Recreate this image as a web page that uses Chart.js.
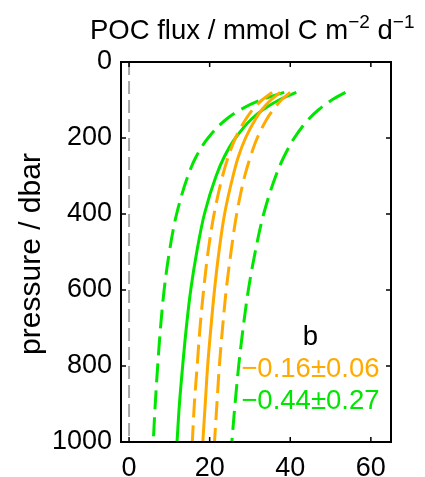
<!DOCTYPE html>
<html>
<head>
<meta charset="utf-8">
<script src="https://cdn.jsdelivr.net/npm/chart.js@4"></script>
<style>
  html, body { margin: 0; padding: 0; background: #fff; }
  #wrap { width: 425px; height: 477px; }
</style>
</head>
<body>
<div id="wrap"><canvas id="fluxChart" width="425" height="477"></canvas></div>
<script>
// values (pressure in dbar, flux in mmol C m-2 d-1)
const PRESSURE   = [80, 100, 125, 150, 200, 250, 300, 400, 500, 600, 700, 800, 900, 1000];
const GREEN_MID  = [41.5, 37.2, 33.3, 30.4, 26.4, 23.6, 21.6, 18.7, 16.8, 15.3, 14.2, 13.3, 12.5, 11.9];
const GREEN_LO   = [38.5, 32.7, 27.7, 24.2, 19.6, 16.6, 14.6, 11.8, 10.0, 8.7, 7.8, 7.1, 6.5, 6.0];
const GREEN_HI   = [53.7, 50.3, 47.1, 44.6, 41.0, 38.4, 36.4, 33.4, 31.3, 29.6, 28.3, 27.2, 26.3, 25.5];
const ORANGE_MID = [37.5, 35.2, 33.0, 31.4, 28.9, 27.1, 25.8, 23.7, 22.3, 21.2, 20.3, 19.5, 18.9, 18.3];
const ORANGE_LO  = [35.5, 33.0, 30.7, 29.0, 26.4, 24.6, 23.2, 21.1, 19.6, 18.5, 17.6, 16.9, 16.2, 15.7];
const ORANGE_HI  = [40.0, 37.8, 35.8, 34.2, 31.8, 30.1, 28.7, 26.7, 25.3, 24.1, 23.2, 22.4, 21.8, 21.2];
const ZERO_LINE  = [{ x: 0, y: 0 }, { x: 0, y: 1000 }];

const X_TICKS = [0, 20, 40, 60];
const Y_TICKS = [0, 200, 400, 600, 800, 1000];
const B_LABEL = 'b';
const ORANGE_B = '\u22120.16\u00b10.06';
const GREEN_B = '\u22120.44\u00b10.27';

const GREEN = '#00e600';
const ORANGE = '#ffaa00';
const FONT = '"Liberation Sans", Arial, Helvetica, sans-serif';

const toXY = (xs) => xs.map((v, i) => ({ x: v, y: PRESSURE[i] }));

function curve(vals, color, dashed) {
    return {
        data: toXY(vals),
        borderColor: color,
        borderWidth: 3,
        borderDash: dashed ? [19, 8] : [],
        pointRadius: 0,
        cubicInterpolationMode: 'monotone',
        fill: false
    };
}

// box with inward ticks, title, axis label and the b annotations
const decorations = {
    id: 'decorations',
    afterDraw(chart) {
        const { ctx, chartArea: a, scales: { x, y } } = chart;
        ctx.save();
        ctx.strokeStyle = '#000';
        ctx.lineWidth = 2;
        ctx.strokeRect(a.left, a.top, a.right - a.left, a.bottom - a.top);
        ctx.lineWidth = 1.5;
        ctx.beginPath();
        X_TICKS.forEach(v => {
            const px = x.getPixelForValue(v);
            ctx.moveTo(px, a.bottom); ctx.lineTo(px, a.bottom - 5);
            ctx.moveTo(px, a.top); ctx.lineTo(px, a.top + 5);
        });
        Y_TICKS.forEach(v => {
            const py = y.getPixelForValue(v);
            ctx.moveTo(a.left, py); ctx.lineTo(a.left + 5, py);
            ctx.moveTo(a.right, py); ctx.lineTo(a.right - 5, py);
        });
        ctx.stroke();

        // title with superscripts
        ctx.fillStyle = '#000';
        ctx.textBaseline = 'alphabetic';
        ctx.textAlign = 'left';
        const parts = [
            ['POC flux / mmol C m', 27.5, 0],
            ['\u22122', 19, -11],
            [' d', 27.5, 0],
            ['\u22121', 19, -11]
        ];
        let tx = 90;
        parts.forEach(([t, size, dy]) => {
            ctx.font = size + 'px ' + FONT;
            ctx.fillText(t, tx, 39 + dy);
            tx += ctx.measureText(t).width;
        });

        // y-axis label
        ctx.save();
        ctx.font = '30px ' + FONT;
        ctx.translate(40, (a.top + a.bottom) / 2 + 2);
        ctx.rotate(-Math.PI / 2);
        ctx.textAlign = 'center';
        ctx.fillText('pressure / dbar', 0, 0);
        ctx.restore();

        // annotations
        ctx.font = '27.5px ' + FONT;
        ctx.textAlign = 'center';
        const cx = x.getPixelForValue(45);
        ctx.fillStyle = '#000';
        ctx.fillText(B_LABEL, cx, y.getPixelForValue(745));
        ctx.fillStyle = ORANGE;
        ctx.fillText(ORANGE_B, cx, y.getPixelForValue(829));
        ctx.fillStyle = GREEN;
        ctx.fillText(GREEN_B, cx, y.getPixelForValue(913));
        ctx.restore();
    }
};

Chart.defaults.font.family = FONT;
Chart.defaults.font.size = 27;
Chart.defaults.color = '#000';

new Chart(document.getElementById('fluxChart').getContext('2d'), {
    type: 'line',
    data: {
        datasets: [
            { data: ZERO_LINE, borderColor: '#a8a8a8', borderWidth: 2, borderDash: [13, 6], pointRadius: 0 },
            curve(ORANGE_LO, ORANGE, true),
            curve(ORANGE_HI, ORANGE, true),
            curve(ORANGE_MID, ORANGE, false),
            curve(GREEN_LO, GREEN, true),
            curve(GREEN_HI, GREEN, true),
            curve(GREEN_MID, GREEN, false)
        ]
    },
    options: {
        responsive: false,
        animation: false,
        indexAxis: 'y',
        layout: { padding: { top: 62, right: 34, left: 0, bottom: 0 } },
        plugins: { legend: { display: false }, tooltip: { enabled: false }, title: { display: false } },
        scales: {
            x: {
                type: 'linear', position: 'bottom', min: -2, max: 65,
                grid: { display: false, drawTicks: false },
                border: { display: false },
                ticks: { padding: 10, font: { size: 27 }, callback: v => String(v) },
                afterBuildTicks: s => { s.ticks = X_TICKS.map(v => ({ value: v })); },
                afterFit: s => { s.height = 35; }
            },
            y: {
                type: 'linear', position: 'left', min: 0, max: 1000, reverse: true,
                grid: { display: false, drawTicks: false },
                border: { display: false },
                ticks: { padding: 9, font: { size: 27 }, callback: v => String(v) },
                afterBuildTicks: s => { s.ticks = Y_TICKS.map(v => ({ value: v })); },
                afterFit: s => { s.width = 121; }
            }
        }
    },
    plugins: [decorations]
});
</script>
</body>
</html>
